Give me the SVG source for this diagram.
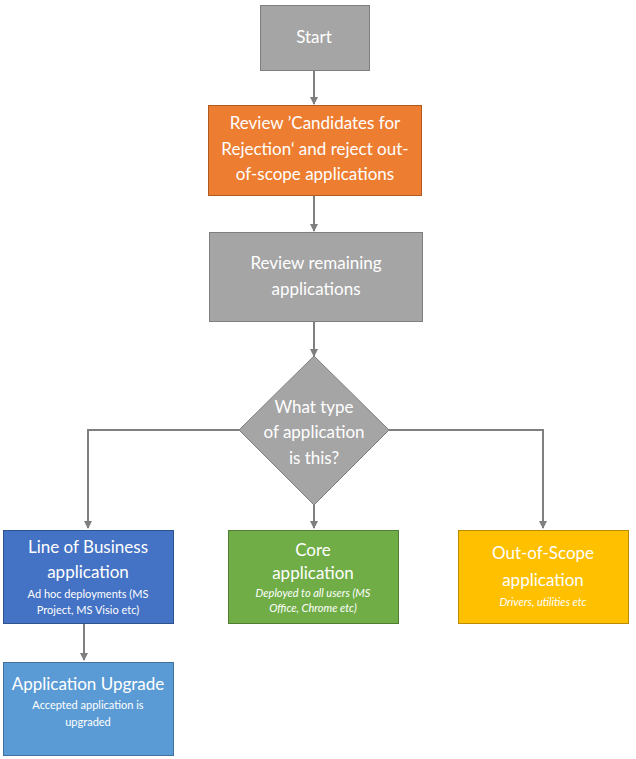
<svg xmlns="http://www.w3.org/2000/svg" width="636" height="759" viewBox="0 0 636 759">
<style>
text{font-family:Lato,"Open Sans","Liberation Sans",sans-serif;fill:#fff;text-anchor:middle;dominant-baseline:central}
.t{font-size:17px}
.s{font-size:11px}
.i{font-style:italic}
.c{stroke:#7f7f7f;stroke-width:2;fill:none;marker-end:url(#a)}
</style>
<defs>
<marker id="a" markerWidth="8" markerHeight="8" refX="7" refY="4" orient="auto" markerUnits="userSpaceOnUse">
<path d="M0,0 L8,4 L0,8 Z" fill="#7f7f7f"/>
</marker>
</defs>
<g id="connectors">
<path class="c" d="M314,70 V104"/>
<path class="c" d="M314,195 V231"/>
<path class="c" d="M314,321 V356"/>
<path class="c" d="M239,430 H88 V528"/>
<path class="c" d="M314,505 V528"/>
<path class="c" d="M389,430 H543 V528"/>
<path class="c" d="M84,623 V660"/>
</g>
<g id="start">
<rect x="260.5" y="5.5" width="109" height="65" fill="#a5a5a5" stroke="#7f7f7f"/>
<text class="t" x="314" y="36">Start</text>
</g>
<g id="review-candidates">
<rect x="208.5" y="105.5" width="213" height="90" fill="#ed7d31" stroke="#ae5a21"/>
<text class="t" x="315" y="122">Review ’Candidates for</text>
<text class="t" x="315" y="148">Rejection‘ and reject out-</text>
<text class="t" x="315" y="173">of-scope applications</text>
</g>
<g id="review-remaining">
<rect x="209.5" y="232.5" width="213" height="89" fill="#a5a5a5" stroke="#7f7f7f"/>
<text class="t" x="316" y="262">Review remaining</text>
<text class="t" x="316" y="288">applications</text>
</g>
<g id="decision">
<path d="M314,356 L389,430 L314,505 L239,430 Z" fill="#a5a5a5" stroke="#7f7f7f"/>
<text class="t" x="314" y="406">What type</text>
<text class="t" x="314" y="431">of application</text>
<text class="t" x="314" y="457">is this?</text>
</g>
<g id="line-of-business">
<rect x="3.5" y="530.5" width="170" height="93" fill="#4472c4" stroke="#2f528f"/>
<text x="88" y="546" style="font-size:17px">Line of Business</text>
<text x="88" y="571" style="font-size:17px">application</text>
<text class="s" x="88" y="593">Ad hoc deployments (MS</text>
<text class="s" x="88" y="609">Project, MS Visio etc)</text>
</g>
<g id="core">
<rect x="228.5" y="530.5" width="170" height="93" fill="#70ad47" stroke="#507e32"/>
<text x="313" y="549" style="font-size:17px">Core</text>
<text x="313" y="572" style="font-size:17px">application</text>
<text class="s i" x="313" y="592">Deployed to all users (MS</text>
<text class="s i" x="313" y="607">Office, Chrome etc)</text>
</g>
<g id="out-of-scope">
<rect x="458.5" y="530.5" width="170" height="93" fill="#ffc000" stroke="#bc8c00"/>
<text x="543" y="552" style="font-size:17px">Out-of-Scope</text>
<text x="543" y="579" style="font-size:17px">application</text>
<text class="s i" x="543" y="601">Drivers, utilities etc</text>
</g>
<g id="upgrade">
<rect x="3.5" y="662.5" width="170" height="93" fill="#5b9bd5" stroke="#41719c"/>
<text x="88" y="683" style="font-size:17px">Application Upgrade</text>
<text class="s" x="88" y="704">Accepted application is</text>
<text class="s" x="88" y="721">upgraded</text>
</g>
</svg>
